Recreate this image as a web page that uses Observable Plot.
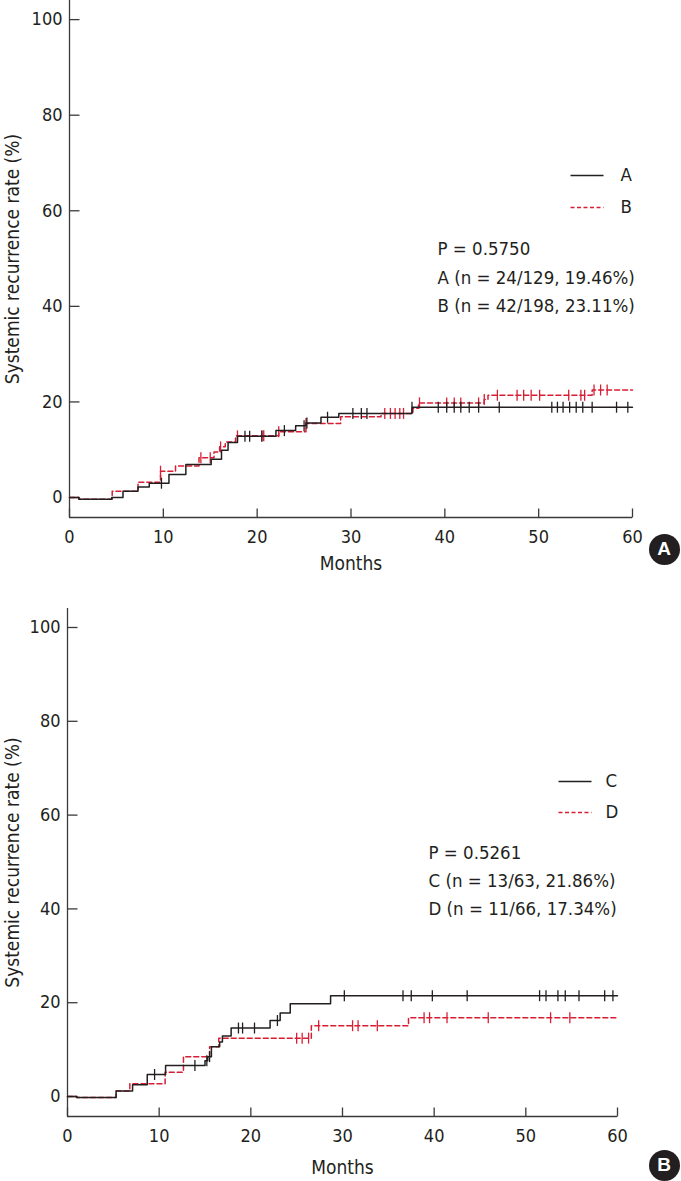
<!DOCTYPE html>
<html><head><meta charset="utf-8">
<script src="https://cdn.jsdelivr.net/npm/d3@7"></script>
<script src="https://cdn.jsdelivr.net/npm/@observablehq/plot@0.6"></script>
<style>
body{margin:0;background:#fff;}
#wrap{position:relative;width:681px;height:1181px;overflow:hidden;}
#wrap svg{display:block;}
.badge{position:absolute;width:31px;height:31px;border-radius:50%;background:#231f20;color:#fff;
 font:bold 19px "Liberation Sans",Arial,sans-serif;display:flex;align-items:center;justify-content:center;}
</style></head><body><div id="wrap"></div>
<script>
// ---------- data ----------
const monthTicks = [0, 10, 20, 30, 40, 50, 60];
const rateTicks = [0, 20, 40, 60, 80, 100];

// Panel A – group A (black, solid)
const aTime = [0, 1.0, 4.5, 5.7, 7.3, 8.5, 10.6, 12.4, 15.1, 16.2, 16.9, 17.9, 22.0, 24.1, 25.2, 26.8, 28.7, 36.5, 60];
const aRate = [0, -0.35, 0, 1.3, 2.2, 3.0, 4.8, 6.9, 8.0, 9.9, 11.5, 12.8, 14.0, 15.0, 15.6, 16.8, 17.6, 18.9, 18.9];
const aCensor = [9.8, 18.7, 19.2, 20.5, 22.9, 25.0, 25.3, 27.5, 30.2, 31.1, 31.7, 36.5, 39.3, 40.2, 41.0, 41.7, 42.6, 43.6, 45.8, 51.4, 52.0, 52.6, 53.3, 54.0, 54.7, 55.7, 58.3, 59.5];

// Panel A – group B (red, dashed)
const bTime = [0, 1.0, 4.55, 7.3, 9.7, 11.3, 13.8, 15.4, 16.0, 16.6, 17.7, 22.3, 25.2, 28.9, 33.2, 36.6, 37.2, 44.2, 44.6, 55.7, 60];
const bRate = [0, -0.35, 1.3, 3.2, 5.5, 6.6, 8.3, 9.5, 10.6, 11.6, 12.9, 13.75, 15.5, 16.9, 17.6, 18.7, 19.8, 20.5, 21.4, 22.5, 22.5];
const bCensor = [9.7, 14.0, 15.0, 16.1, 17.9, 20.5, 20.7, 22.3, 25.2, 33.6, 34.2, 34.7, 35.2, 35.6, 37.3, 40.2, 41.0, 41.7, 43.6, 44.2, 45.6, 47.7, 48.4, 49.2, 50.1, 53.2, 54.5, 54.9, 55.9, 56.6, 57.3];

// Panel B – group C (black, solid)
const cTime = [0, 1.0, 5.3, 7.1, 8.7, 10.7, 15.0, 15.3, 15.7, 16.6, 16.9, 17.85, 22.1, 23.2, 24.3, 28.7, 60];
const cRate = [0, -0.2, 1.2, 2.5, 4.7, 6.6, 7.6, 8.5, 10.6, 11.6, 12.9, 14.6, 16.2, 17.8, 19.8, 21.5, 21.5];
const cCensor = [9.5, 13.9, 15.2, 15.5, 18.65, 19.1, 20.4, 22.9, 30.2, 36.6, 37.5, 39.8, 43.6, 51.5, 52.2, 53.5, 54.3, 55.8, 58.6, 59.5];

// Panel B – group D (red, dashed)
const dTime = [0, 1.0, 5.3, 6.8, 10.65, 12.65, 15.5, 16.5, 26.6, 37.2, 60];
const dRate = [0, -0.2, 1.2, 2.7, 5.2, 8.5, 10.6, 12.45, 15.1, 16.8, 16.8];
const dCensor = [25.0, 25.6, 26.3, 27.4, 31.1, 31.7, 33.8, 38.9, 39.5, 41.4, 45.9, 52.7, 54.8];

const panelAStats = ["P = 0.5750", "A (n = 24/129, 19.46%)", "B (n = 42/198, 23.11%)"];
const panelBStats = ["P = 0.5261", "C (n = 13/63, 21.86%)", "D (n = 11/66, 17.34%)"];

// ---------- styles ----------
const FONT = '"Liberation Sans Narrow","DejaVu Sans Condensed","Roboto Condensed","Arial Narrow",Roboto,sans-serif';
const INK = "#231f20";
const AXIS = "#3a3a3a";
const RED = "#d81e34";

const vbar = {draw(ctx, size){ const h = Math.sqrt(size / Math.PI); ctx.moveTo(0, -h); ctx.lineTo(0, h); }};
const tickRight = {draw(ctx, size){ const l = Math.sqrt(size / Math.PI); ctx.moveTo(0, 0); ctx.lineTo(l, 0); }};
const tickUp = {draw(ctx, size){ const l = Math.sqrt(size / Math.PI); ctx.moveTo(0, 0); ctx.lineTo(0, -l); }};
const hline = {draw(ctx, size){ const l = Math.sqrt(size / Math.PI); ctx.moveTo(0, 0); ctx.lineTo(l, 0); }};

function toRows(time, rate){ return time.map((t, i) => ({t, r: rate[i]})); }
function valueAt(time, rate, t){ let v = rate[0]; for (let i = 0; i < time.length; i++) if (time[i] <= t) v = rate[i]; return v; }
function censorRows(time, rate, cens){ return cens.map(t => ({t, r: valueAt(time, rate, t)})); }

function panel(cfg){
  const s1 = cfg.series[0], s2 = cfg.series[1];
  const txt = {textAnchor: "start", lineAnchor: "middle", fontSize: 18.5, fill: INK, text: d => d, frameAnchor: "top-left"};
  const marks = [
    Plot.ruleX([0], {stroke: AXIS, strokeWidth: 1.3}),
    Plot.ruleY([cfg.yDomain[0]], {stroke: AXIS, strokeWidth: 1.3}),
    Plot.dot(rateTicks, {x: 0, y: d => d, symbol: tickRight, r: 10, stroke: AXIS, strokeWidth: 1.3, fill: "none"}),
    Plot.dot(monthTicks, {x: d => d, frameAnchor: "bottom", symbol: tickUp, r: 9, stroke: AXIS, strokeWidth: 1.3, fill: "none"}),
    Plot.axisY(rateTicks, {tickSize: 0, tickPadding: 7, label: null, fontSize: 18, fill: INK}),
    Plot.axisX(monthTicks, {tickSize: 0, tickPadding: 13, label: null, fontSize: 18, fill: INK}),
    Plot.text([cfg.yLabel], {frameAnchor: "left", dx: cfg.yLabelDx, rotate: -90, textAnchor: "middle", lineAnchor: "middle", fontSize: 19, fill: INK, text: d => d}),
    Plot.text(["Months"], {frameAnchor: "bottom", dy: cfg.monthsDy, textAnchor: "middle", lineAnchor: "middle", fontSize: 19, fill: INK, text: d => d}),
    // curves
    Plot.line(toRows(s2.time, s2.rate), {x: "t", y: "r", curve: "step-after", stroke: RED, strokeWidth: 1.5, strokeDasharray: "5,3"}),
    Plot.dot(censorRows(s2.time, s2.rate, s2.cens), {x: "t", y: "r", symbol: vbar, r: 5.5, stroke: RED, strokeWidth: 1.3, fill: "none"}),
    Plot.line(toRows(s1.time, s1.rate), {x: "t", y: "r", curve: "step-after", stroke: INK, strokeWidth: 1.5}),
    Plot.dot(censorRows(s1.time, s1.rate, s1.cens), {x: "t", y: "r", symbol: vbar, r: 5.5, stroke: INK, strokeWidth: 1.3, fill: "none"}),
    // legend
    Plot.dot([s1.name], {frameAnchor: "top-left", dx: cfg.leg.x, dy: cfg.leg.y1, symbol: hline, r: 33, stroke: INK, strokeWidth: 1.3, fill: "none"}),
    Plot.dot([s2.name], {frameAnchor: "top-left", dx: cfg.leg.x, dy: cfg.leg.y2, symbol: hline, r: 33, stroke: RED, strokeWidth: 1.3, strokeDasharray: "4,2.5", fill: "none"}),
    Plot.text([s1.name], {...txt, dx: cfg.leg.tx, dy: cfg.leg.y1}),
    Plot.text([s2.name], {...txt, dx: cfg.leg.tx, dy: cfg.leg.y2}),
  ];
  cfg.stats.forEach((s, i) => {
    marks.push(Plot.text([s], {...txt, dx: cfg.st.x, dy: cfg.st.y + i * cfg.st.gap}));
  });
  return Plot.plot({
    width: 681, height: cfg.height,
    marginTop: cfg.marginTop, marginBottom: cfg.marginBottom, marginLeft: cfg.marginLeft, marginRight: cfg.marginRight,
    x: {domain: [0, 60]},
    y: {domain: cfg.yDomain},
    style: {fontFamily: FONT, fontSize: "18px", color: INK, background: "#fff"},
    marks
  });
}

const wrap = document.getElementById("wrap");
wrap.appendChild(panel({
  height: 590, marginTop: 0, marginBottom: 73, marginLeft: 69, marginRight: 49,
  yDomain: [-4.18, 104], yLabel: "Systemic recurrence rate (%)", yLabelDx: -57, monthsDy: 46,
  series: [{name: "A", time: aTime, rate: aRate, cens: aCensor}, {name: "B", time: bTime, rate: bRate, cens: bCensor}],
  leg: {x: 501, y1: 175, y2: 207, tx: 551},
  stats: panelAStats, st: {x: 368, y: 249, gap: 28.5}
}));
wrap.appendChild(panel({
  height: 591, marginTop: 18, marginBottom: 65, marginLeft: 67, marginRight: 64,
  yDomain: [-4.26, 104.05], yLabel: "Systemic recurrence rate (%)", yLabelDx: -55, monthsDy: 51,
  series: [{name: "C", time: cTime, rate: cRate, cens: cCensor}, {name: "D", time: dTime, rate: dRate, cens: dCensor}],
  leg: {x: 491, y1: 173, y2: 204, tx: 538},
  stats: panelBStats, st: {x: 361, y: 244.5, gap: 28}
}));
for (const [txt, cx, cy] of [["A", 664, 549], ["B", 664, 1165]]) {
  const b = document.createElement("div");
  b.className = "badge"; b.textContent = txt;
  b.style.left = (cx - 15.5) + "px"; b.style.top = (cy - 15.5) + "px";
  wrap.appendChild(b);
}
</script></body></html>
